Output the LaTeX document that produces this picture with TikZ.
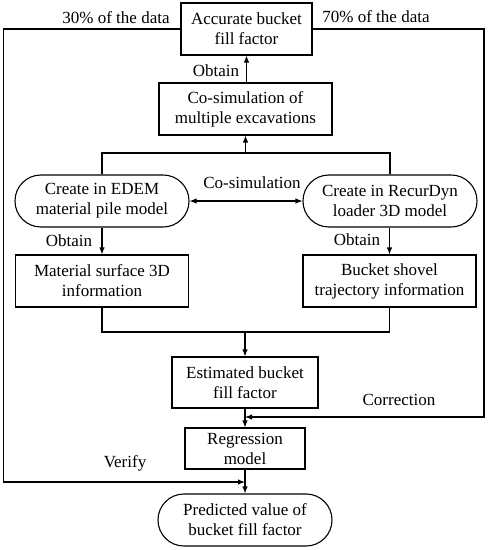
\documentclass[tikz,border=0pt]{standalone}
\usepackage{fontspec}
\setmainfont{Liberation Serif}
\usetikzlibrary{arrows.meta}
\begin{document}
\begin{tikzpicture}[x=1pt,y=-1pt,
  every node/.style={font=\fontsize{17}{20}\selectfont, align=center, inner sep=0pt},
  box/.style={draw, line width=1.1pt, rectangle},
  stadium/.style={draw, line width=1.1pt, rectangle, rounded corners=25.9pt},
  lab/.style={},
  conn/.style={line width=1.1pt},
  arr/.style={conn, -{Latex[length=7pt,width=5.5pt]}},
  darr/.style={conn, {Latex[length=7pt,width=5.5pt]}-{Latex[length=7pt,width=5.5pt]}}]
\useasboundingbox (0,0) rectangle (488,550);

\node[box, minimum width=131pt, minimum height=52pt] (acc) at (246.5,29) {Accurate bucket\\fill factor};
\node[box, minimum width=173pt, minimum height=52pt] (cosim) at (245.5,109) {Co-simulation of\\multiple excavations};
\node[stadium, minimum width=174pt, minimum height=52pt] (edem) at (102,201) {Create in EDEM\\material pile model};
\node[stadium, minimum width=174pt, minimum height=52pt] (recur) at (390,201) {Create in RecurDyn\\loader 3D model};
\node[box, minimum width=173pt, minimum height=52pt] (mat) at (102,281) {Material surface 3D\\information};
\node[box, minimum width=173pt, minimum height=52pt] (buck) at (389.5,281) {Bucket shovel\\trajectory information};
\node[box, minimum width=146pt, minimum height=51pt] (est) at (245,382.5) {Estimated bucket\\fill factor};
\node[box, minimum width=120pt, minimum height=41pt] (reg) at (245,448.5) {Regression\\model};
\node[stadium, minimum width=174pt, minimum height=52pt] (pred) at (245,520) {Predicted value of\\bucket fill factor};

% labels
\node[lab] (l30) at (116,18) {30\% of the data};
\node[lab] (l70) at (376,17) {70\% of the data};
\node[lab] (lob1) at (216,71) {Obtain};
\node[lab] (lcos) at (252,183) {Co-simulation};
\node[lab] (lob2) at (69,241) {Obtain};
\node[lab] (lob3) at (357,240) {Obtain};
\node[lab] (lcor) at (399,400) {Correction};
\node[lab] (lver) at (125,463) {Verify};

% coordinates
\coordinate (j1) at (245.5,153);
\coordinate (j2) at (245,332);
\coordinate (tr) at (484,29);
\coordinate (br) at (484,417);
\coordinate (cin) at (245,417);
\coordinate (tl) at (3.5,29);
\coordinate (bl) at (3.5,482);
\coordinate (vin) at (245,482);

% connectors
\draw[arr] (cosim.north -| acc.south) -- (acc.south);
\draw[conn] (edem.north) |- (j1) -| (recur.north);
\draw[arr] (j1) -- (cosim.south);
\draw[darr] (edem.east) -- (recur.west);
\draw[arr] (edem.south) -- (mat.north);
\draw[arr] (recur.south -| buck.north) -- (buck.north);
\draw[conn] (mat.south) |- (j2) -| (buck.south);
\draw[arr] (j2) -- (est.north);
\draw[arr] (est.south) -- (reg.north);
\draw[arr] (acc.east) -- (tr) -- (br) -- (cin);
\draw[arr] (reg.south) -- (pred.north);
\draw[arr] (acc.west) -- (tl) -- (bl) -- (vin);
\end{tikzpicture}
\end{document}
